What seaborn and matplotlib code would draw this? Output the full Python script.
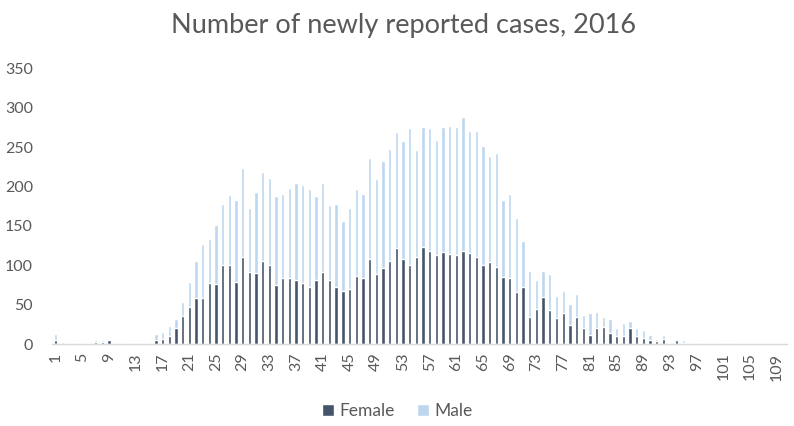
import numpy as np
import pandas as pd
import matplotlib
matplotlib.use("Agg")
import matplotlib.pyplot as plt
import seaborn as sns

# ages 1..110, newly reported cases per age
ages = list(range(1, 111))
female = [5, 0, 0, 0, 1, 0, 3, 3, 5, 1,
          0, 0, 0, 0, 1, 5, 6, 11, 20, 36,
          47, 59, 58, 77, 76, 101, 101, 79, 110, 91,
          90, 105, 101, 75, 84, 84, 82, 78, 73, 82,
          91, 82, 72, 68, 70, 86, 84, 108, 89, 96,
          106, 122, 108, 100, 110, 123, 118, 113, 117, 115,
          113, 118, 116, 111, 100, 104, 98, 85, 84, 66,
          72, 35, 45, 60, 43, 33, 40, 24, 35, 21,
          12, 20, 22, 14, 10, 10, 21, 11, 8, 5,
          4, 6, 2, 5, 2, 2, 0, 0, 0, 0,
          0, 0, 0, 0, 0, 0, 0, 0, 0, 0]
male = [8, 3, 0, 1, 2, 1, 2, 2, 1, 2,
        0, 2, 2, 1, 2, 8, 10, 12, 12, 18,
        32, 47, 69, 57, 75, 77, 88, 104, 114, 82,
        103, 113, 110, 113, 107, 114, 122, 124, 124, 106,
        113, 95, 106, 88, 103, 111, 106, 128, 121, 136,
        141, 147, 150, 174, 136, 152, 156, 146, 158, 162,
        162, 170, 154, 159, 151, 134, 144, 98, 107, 94,
        59, 58, 37, 33, 46, 28, 27, 27, 29, 16,
        28, 21, 13, 18, 11, 17, 8, 10, 10, 7,
        3, 6, 1, 1, 3, 1, 1, 1, 0, 0,
        1, 1, 0, 0, 0, 0, 0, 0, 0, 0]

df = pd.DataFrame({"age": [str(a) for a in ages], "Female": female, "Male": male})
df["total"] = df["Female"] + df["Male"]

dark = "#44546A"
light = "#BDD7EE"
txt = "#595959"

sns.set_style("white")
plt.rcParams["font.family"] = ["Lato", "DejaVu Sans"]

fig = plt.figure(figsize=(7.94, 4.26), dpi=100)
ax = fig.add_axes([0.066, 0.192, 0.925, 0.648])

# stacked look: totals in light blue, female drawn over the bottom part
sns.barplot(data=df, x="age", y="total", color=light, width=0.5,
            saturation=1, ax=ax, label="Male")
sns.barplot(data=df, x="age", y="Female", color=dark, width=0.5,
            saturation=1, ax=ax, label="Female")

ax.set_ylim(0, 350)
ax.set_xlim(-0.5, len(ages) - 0.5)
ax.set_yticks(range(0, 351, 50))
ax.set_xticks(range(0, len(ages), 4))
ax.set_xticklabels([str(a) for a in ages[::4]], rotation=90)
ax.tick_params(axis="both", length=0, labelsize=11.5, colors=txt, pad=6)
ax.tick_params(axis="y", pad=14)
ax.set_xlabel("")
ax.set_ylabel("")

for s in ["top", "right", "left"]:
    ax.spines[s].set_visible(False)
ax.spines["bottom"].set_color("#D9D9D9")
ax.spines["bottom"].set_linewidth(1)

fig.suptitle("Number of newly reported cases, 2016", x=0.508, y=0.97,
             fontsize=19.5, color=txt)

handles, labels = ax.get_legend_handles_labels()
order = [labels.index("Female"), labels.index("Male")]
fig.legend([handles[i] for i in order], [labels[i] for i in order],
           loc="lower center", bbox_to_anchor=(0.5, -0.02), ncol=2,
           frameon=False, fontsize=12.5, labelcolor=txt,
           handlelength=0.7, handleheight=0.7, handletextpad=0.3,
           columnspacing=1.3)
if ax.get_legend() is not None:
    ax.get_legend().remove()

fig.savefig("out.png", dpi=100)
